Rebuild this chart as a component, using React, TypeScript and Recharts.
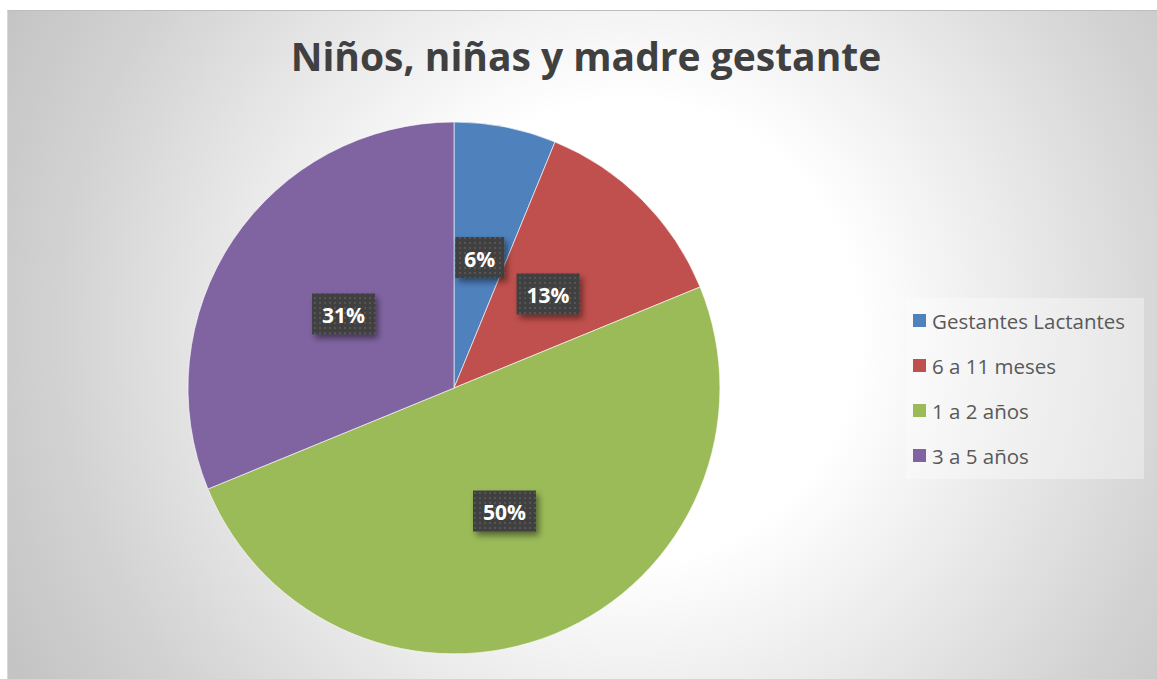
import React from "react";
import { PieChart, Pie, Cell, Legend } from "recharts";

const categories = ["Gestantes Lactantes", "6 a 11 meses", "1 a 2 años", "3 a 5 años"];
const values = [6.2, 12.6, 50.0, 31.2];
const colors = ["#4f81bd", "#c0504d", "#9bbb59", "#8064a2"];
const title = "Niños, niñas y madre gestante";

const data = categories.map((name, i) => ({ name, value: values[i] }));

const RADIAN = Math.PI / 180;
const FONT = "'Open Sans', Lato, sans-serif";

const renderLabel = (props: any) => {
  const { cx, cy, midAngle, outerRadius, percent } = props;
  const r = outerRadius * 0.5;
  const x = cx + r * Math.cos(-midAngle * RADIAN);
  const y = cy + r * Math.sin(-midAngle * RADIAN);
  const text = `${Math.round(percent * 100)}%`;
  const w = text.length * 14 + 21;
  const h = 41;
  return (
    <g>
      <rect x={x - w / 2} y={y - h / 2} width={w} height={h} fill="url(#dotPattern)" filter="url(#lblShadow)" />
      <text
        x={x}
        y={y + 1}
        textAnchor="middle"
        dominantBaseline="central"
        fill="#ffffff"
        fontFamily={FONT}
        fontWeight={700}
        fontSize={21}
      >
        {text}
      </text>
    </g>
  );
};

const renderLegend = (props: any) => {
  const payload: any[] = props.payload || [];
  const ordered = categories
    .map((c) => payload.find((p: any) => p.value === c))
    .filter(Boolean);
  return (
    <div
      style={{
        width: 238,
        height: 181,
        background: "rgba(255,255,255,0.35)",
        boxSizing: "border-box",
        paddingTop: 0,
        paddingLeft: 7,
      }}
    >
      {ordered.map((entry: any, i: number) => (
        <div key={i} style={{ display: "flex", alignItems: "center", height: 45 }}>
          <span style={{ width: 13, height: 13, background: entry.color, display: "inline-block", marginRight: 6 }} />
          <span style={{ fontFamily: FONT, fontSize: 20.5, color: "#595959", lineHeight: "22px" }}>{entry.value}</span>
        </div>
      ))}
    </div>
  );
};

export default function App() {
  return (
    <div
      style={{
        position: "absolute",
        left: 7,
        top: 10,
        width: 1150,
        height: 669,
        background:
          "radial-gradient(circle 700px at 620px 320px, #ffffff 0px, #ffffff 230px, #e9e9e9 400px, #d2d2d2 570px, #c4c4c4 700px)",
        borderTop: "1px solid #bdbdbd",
        borderLeft: "1px solid #d8d8d8",
        boxSizing: "border-box",
        overflow: "hidden",
      }}
    >
      <div
        style={{
          position: "absolute",
          left: 0,
          width: 1156,
          top: 25,
          textAlign: "center",
          fontFamily: FONT,
          fontWeight: 700,
          fontSize: 39,
          color: "#404040",
          lineHeight: "39px",
          whiteSpace: "nowrap",
        }}
      >
        {title}
      </div>
      <PieChart
        width={1150}
        height={669}
        margin={{ top: 0, right: 0, bottom: 0, left: 0 }}
        style={{ position: "absolute", left: 0, top: 0 }}
      >
        <defs>
          <pattern id="dotPattern" width="5" height="5" patternUnits="userSpaceOnUse">
            <rect width="5" height="5" fill="#404040" />
            <rect x="1" y="1" width="2" height="2" fill="#555555" />
          </pattern>
          <filter id="lblShadow" x="-30%" y="-30%" width="160%" height="180%">
            <feDropShadow dx="3" dy="4" stdDeviation="3" floodColor="#000" floodOpacity="0.45" />
          </filter>
        </defs>
        <Pie
          data={data}
          dataKey="value"
          nameKey="name"
          cx={446}
          cy={377}
          outerRadius={266}
          startAngle={90}
          endAngle={-270}
          stroke="rgba(255,255,255,0.6)"
          strokeWidth={1}
          label={renderLabel}
          labelLine={false}
          isAnimationActive={false}
        >
          {data.map((d, i) => (
            <Cell key={d.name} fill={colors[i]} />
          ))}
        </Pie>
        <Legend
          content={renderLegend}
          layout="vertical"
          wrapperStyle={{ position: "absolute", left: 898, top: 287, width: 238, height: 181 }}
        />
      </PieChart>
    </div>
  );
}
